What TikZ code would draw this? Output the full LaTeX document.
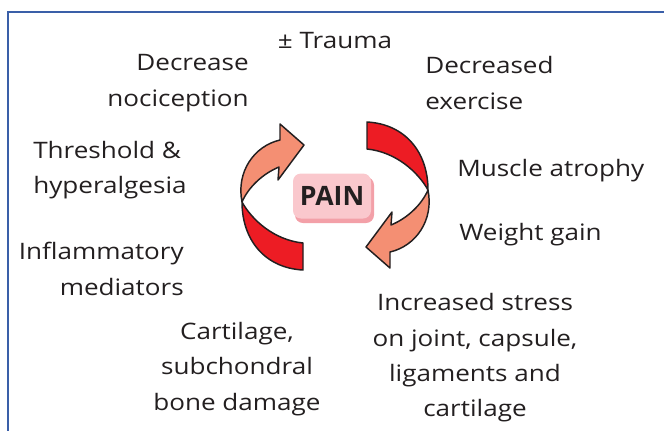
\documentclass[tikz,border=0pt]{standalone}
\usepackage{fontspec}
\setmainfont{Open Sans}[FakeStretch=1.15]
\newfontfamily\painfont{Open Sans}[FakeStretch=1.0]
\definecolor{framebl}{HTML}{3A5FA8}
\definecolor{txt}{HTML}{231F20}
\definecolor{arred}{HTML}{ED1C24}
\definecolor{arsalmon}{HTML}{F48F73}
\definecolor{boxpink}{HTML}{FAC8CD}
\definecolor{boxshadow}{HTML}{F3A0A8}
\tikzset{
  lbl/.style={font=\fontsize{17}{26.5}\selectfont, text=txt, inner sep=0pt},
  ribbon/.style={draw=txt, line width=1.1pt, line join=round},
}
\begin{document}
\begin{tikzpicture}[x=0.75pt,y=-0.75pt]
\useasboundingbox (0,0) rectangle (664,430);
% frame
\draw[framebl, line width=1.6pt] (8,440) -- (8,12) -- (670,12);
% left cycle arrow and its point-reflected twin
\foreach \ang in {0,180}{
\begin{scope}[rotate around={\ang:(335,196)}]
  \path[ribbon, fill=arred] (303,243) -- (303,270)
     .. controls (265,268) and (242,240) .. (242,202)
     .. controls (252,220) and (274,240) .. (303,243) -- cycle;
  \path[ribbon, fill=arsalmon] (242,202)
     .. controls (236,172) and (254,146) .. (280,140)
     -- (280,124) -- (304,145) -- (278,180) -- (279,167)
     .. controls (262,174) and (248,188) .. (242,202) -- cycle;
\end{scope}
}
% PAIN box
\fill[boxshadow, rounded corners=6pt] (295,177) rectangle (374,223);
\node[fill=boxpink, rounded corners=6pt, minimum width=78*0.75pt, minimum height=45*0.75pt,
      inner sep=0pt, font=\painfont\fontsize{20}{24}\selectfont\bfseries, text=txt] (pain) at (332,196) {PAIN};
% labels
\node[lbl] (trauma) at (335,41) {± Trauma};
\node[lbl, anchor=east, align=right] (noci) at (249,83) {Decrease\\nociception};
\node[lbl, anchor=west, align=left] (exer) at (425,83) {Decreased\\exercise};
\node[lbl, anchor=west, align=left] (thresh) at (33,170) {Threshold \&\\hyperalgesia};
\node[lbl, anchor=east, align=right] (infl) at (184,269) {Inflammatory\\mediators};
\node[lbl, anchor=west] (atrophy) at (457,171) {Muscle atrophy};
\node[lbl, anchor=west] (weight) at (459,235) {Weight gain};
\node[lbl, align=center] (cart) at (237,369) {Cartilage,\\subchondral\\bone damage};
\node[lbl, align=center] (stress) at (475,358) {Increased stress\\on joint, capsule,\\ligaments and\\cartilage};
\end{tikzpicture}
\end{document}
